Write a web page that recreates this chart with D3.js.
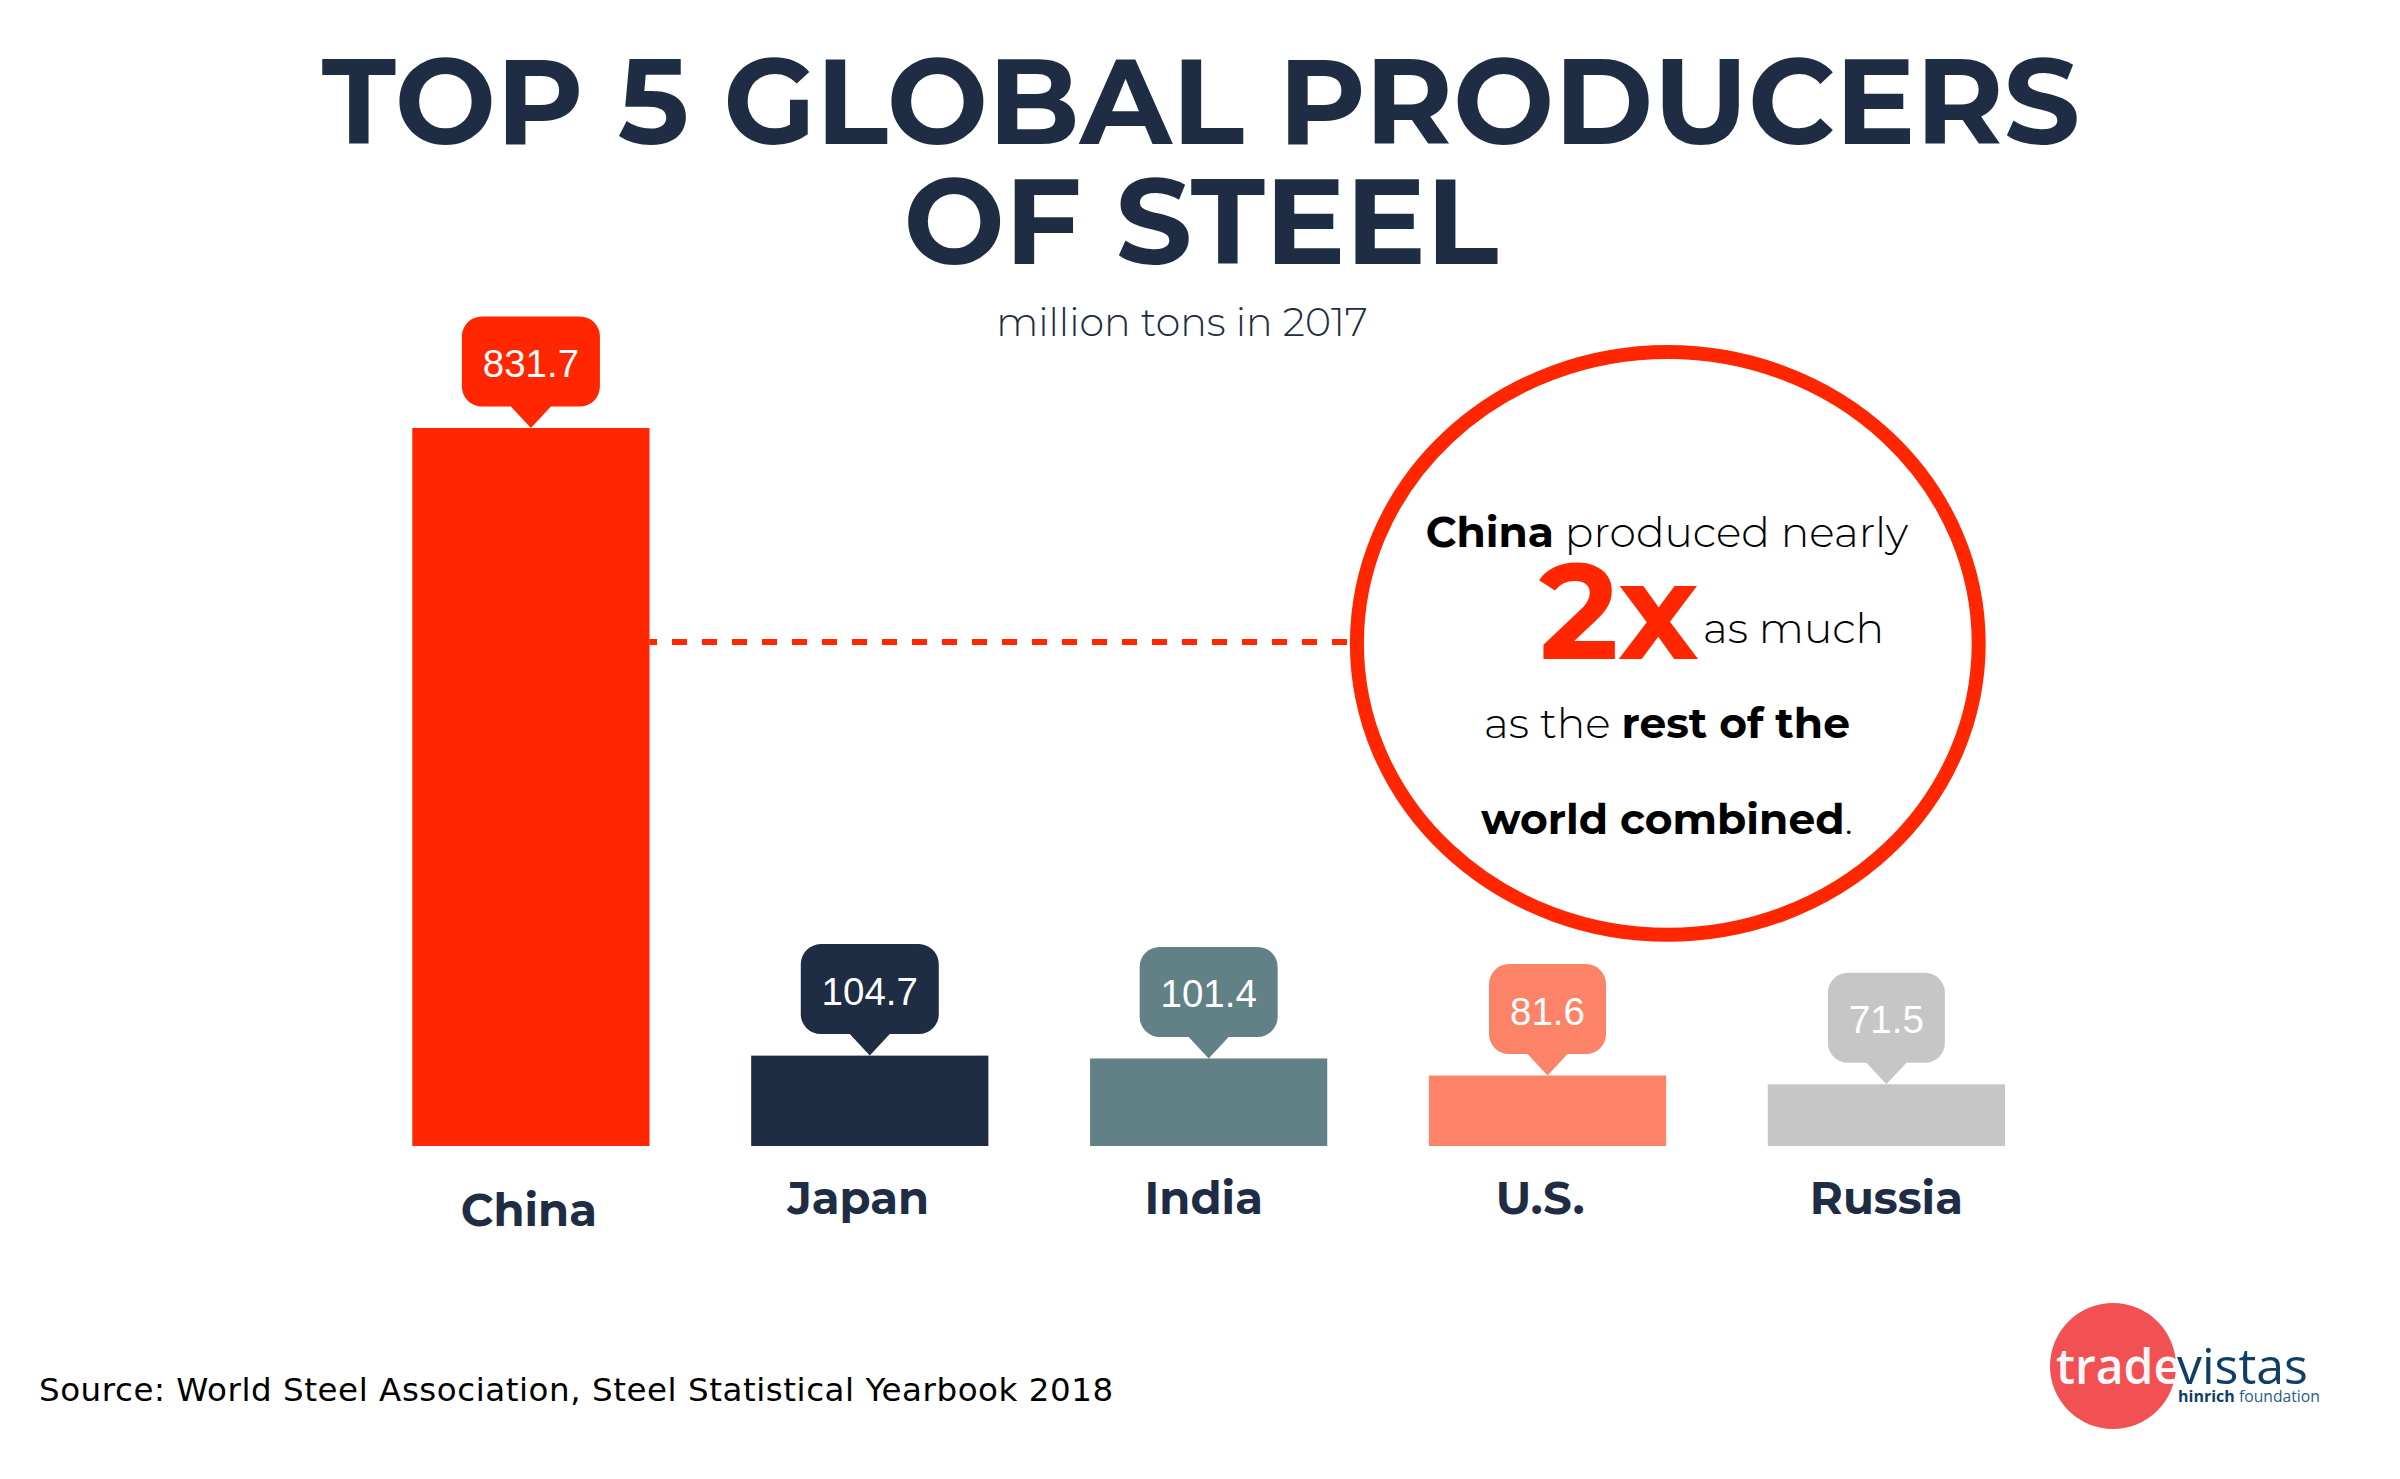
<!DOCTYPE html>
<html><head><meta charset="utf-8">
<script src="https://cdn.jsdelivr.net/npm/d3@7/dist/d3.min.js"></script>
<style>html,body{margin:0;padding:0;background:#fff}svg{display:block}</style>
</head><body><svg id="c" width="2400" height="1479"></svg>
<script>
const categories = ["China","Japan","India","U.S.","Russia"];
const values = [831.7,104.7,101.4,81.6,71.5];
const valueLabels = ["831.7","104.7","101.4","81.6","71.5"];
const colors = ["#FF2600","#1E2C44","#618186","#FC8367","#C6C6C6"];
const titleLines = ["TOP 5 GLOBAL PRODUCERS","OF STEEL"];
const subtitle = "million tons in 2017";
const source = "Source: World Steel Association, Steel Statistical Yearbook 2018";

const W=2400,H=1479;
const disp="Montserrat, Inter, 'Noto Sans', sans-serif";
const svg=d3.select("#c");
svg.append("rect").attr("width",W).attr("height",H).attr("fill","#fff");
const x=d3.scaleBand().domain(categories).range([412.3,2005]).paddingInner(0.3).paddingOuter(0);
const y=d3.scaleLinear().domain([0,831.7]).range([1146,428]);

// title
svg.selectAll(".t").data(titleLines).join("text").attr("class","t")
 .attr("x",1201).attr("y",(d,i)=>i?264:144).attr("text-anchor","middle")
 .attr("font-family",disp).attr("font-weight",700).attr("font-size",120)
 .attr("fill","#1E2C44").text(d=>d);
svg.append("text").attr("x",1182).attr("y",336).attr("text-anchor","middle")
 .attr("font-family",disp).attr("font-weight",300).attr("font-size",39.5).attr("fill","#1E2C44").text(subtitle);

// connector
const bx=x("China")+x.bandwidth();
svg.append("line").attr("x1",1347).attr("x2",bx).attr("y1",642).attr("y2",642)
 .attr("stroke","#FF2600").attr("stroke-width",6).attr("stroke-dasharray","15 15");
// bars
svg.selectAll(".bar").data(categories).join("rect").attr("class","bar")
 .attr("x",d=>x(d)).attr("width",x.bandwidth())
 .attr("y",(d,i)=>y(values[i])).attr("height",(d,i)=>y(0)-y(values[i]))
 .attr("fill",(d,i)=>colors[i]);
// bubbles
const bubble=(d,i)=>{
  const cx=x(d)+x.bandwidth()/2, tip=y(values[i]), bot=tip-21.5, top=bot-90;
  const hw=valueLabels[i].length>4?69:58.5, r=20;
  return `M${cx-hw+r},${top}H${cx+hw-r}A${r},${r} 0 0 1 ${cx+hw},${top+r}V${bot-r}A${r},${r} 0 0 1 ${cx+hw-r},${bot}H${cx+20}L${cx},${tip}L${cx-20},${bot}H${cx-hw+r}A${r},${r} 0 0 1 ${cx-hw},${bot-r}V${top+r}A${r},${r} 0 0 1 ${cx-hw+r},${top}Z`;
};
svg.selectAll(".bub").data(categories).join("path").attr("class","bub").attr("d",bubble).attr("fill",(d,i)=>colors[i]);
svg.selectAll(".val").data(categories).join("text").attr("class","val")
 .attr("x",d=>x(d)+x.bandwidth()/2).attr("y",(d,i)=>y(values[i])-51)
 .attr("text-anchor","middle").attr("font-family","'Liberation Sans',Arial,sans-serif")
 .attr("font-size",38.5).attr("fill","#fff").text((d,i)=>valueLabels[i]);
// category labels
const labelDx=[-2,-11.5,-5,-7.4,0], labelBase=[1226,1214.3,1214.3,1214.3,1214.3];
svg.selectAll(".cat").data(categories).join("text").attr("class","cat")
 .attr("x",(d,i)=>x(d)+x.bandwidth()/2+labelDx[i]).attr("y",(d,i)=>labelBase[i])
 .attr("text-anchor","middle").attr("font-family",disp).attr("font-weight",700)
 .attr("font-size",45).attr("fill","#1E2C44").text(d=>d);
// callout
svg.append("ellipse").attr("cx",1667.8).attr("cy",643.4).attr("rx",310.9).attr("ry",291.4)
 .attr("fill","#fff").attr("stroke","#FF2600").attr("stroke-width",14);
const line=(xx,yy,parts,anchor)=>{
  const t=svg.append("text").attr("x",xx).attr("y",yy).attr("text-anchor",anchor||"middle")
   .attr("font-family",disp).attr("font-size",42.4).attr("fill","#000");
  parts.forEach(p=>{t.append("tspan").attr("font-weight",p[1]).text(p[0]);});
};
line(1667,547,[["China",700],[" produced nearly",300]]);
svg.append("text").attr("x",1539).attr("y",659.4).attr("font-family",disp).attr("font-weight",700)
 .attr("font-size",135).attr("fill","#FF2600").text("2x");
line(1703,642.6,[["as much",300]],"start");
line(1667,737.5,[["as the ",300],["rest of the",700]]);
line(1667,833.5,[["world combined",700],[".",300]]);
// source
svg.append("text").attr("x",39).attr("y",1401).attr("font-family","'DejaVu Sans',Verdana,sans-serif")
 .attr("font-size",32.5).attr("letter-spacing",0.55).attr("fill","#000").text(source);
// logo
svg.append("circle").attr("cx",2113).attr("cy",1366).attr("r",63).attr("fill","#F15152");
svg.append("text").attr("x",2056).attr("y",1384).attr("font-family","'Open Sans',sans-serif").attr("font-size",48).attr("font-weight",600).attr("fill","#F7F7FA").text("trade");
svg.append("text").attr("x",2177).attr("y",1384).attr("font-family","'Open Sans',sans-serif").attr("font-size",50).attr("fill","#0F3F66").text("vistas");
svg.append("text").attr("x",2178).attr("y",1402).attr("font-family","'Open Sans',sans-serif").attr("font-size",16).attr("font-weight",700).attr("fill","#0F3F66").text("hinrich");
svg.append("text").attr("x",2239).attr("y",1402).attr("font-family","'Open Sans',sans-serif").attr("font-size",15.7).attr("fill","#1F5C88").text("foundation");
</script></body></html>
